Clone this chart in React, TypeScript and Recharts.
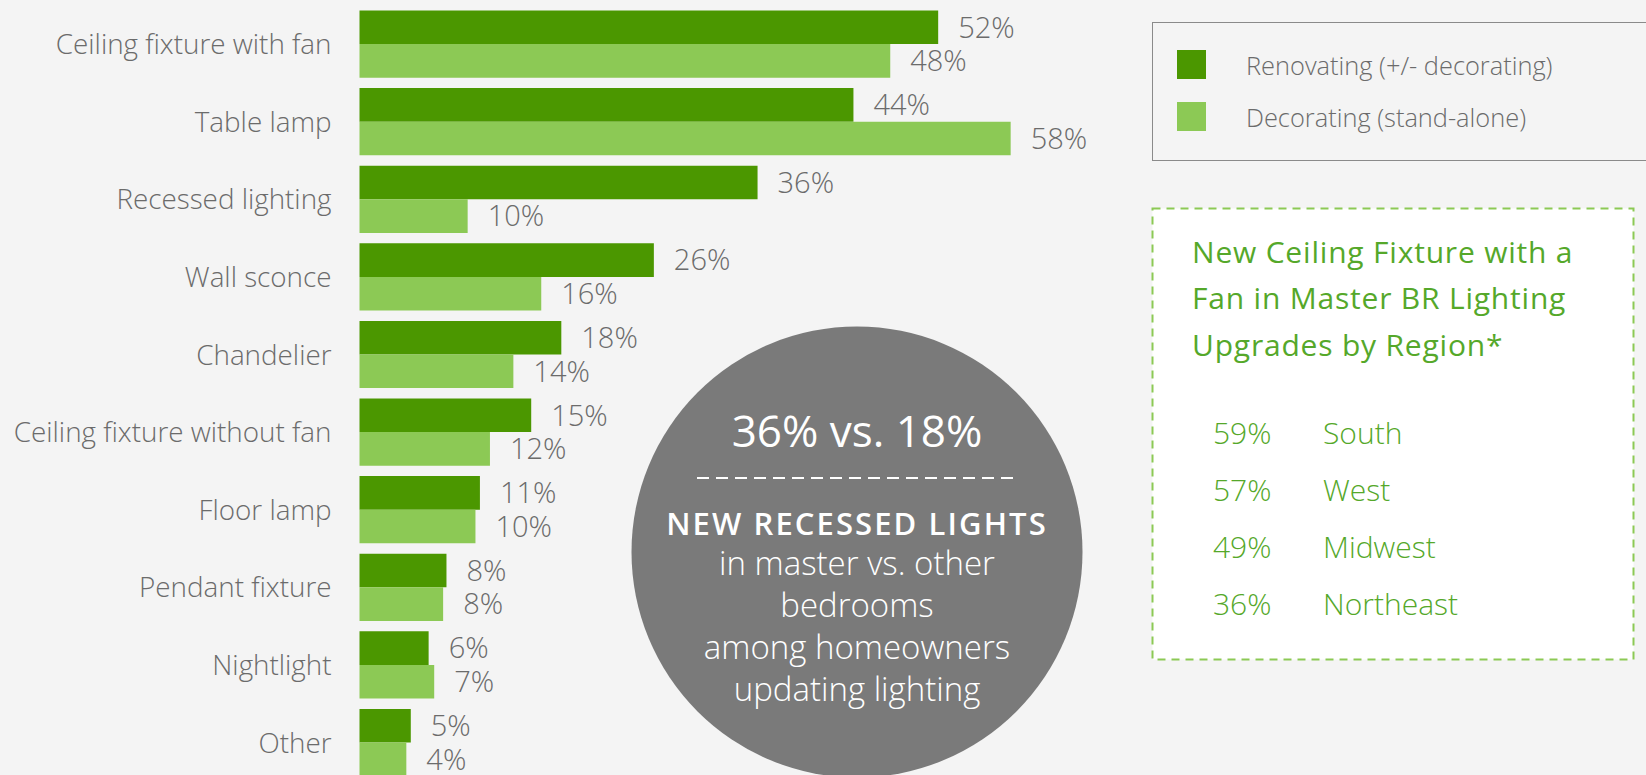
import React from "react";
import { BarChart, Bar, XAxis, YAxis, LabelList, Legend } from "recharts";

const categories = [
  "Ceiling fixture with fan",
  "Table lamp",
  "Recessed lighting",
  "Wall sconce",
  "Chandelier",
  "Ceiling fixture without fan",
  "Floor lamp",
  "Pendant fixture",
  "Nightlight",
  "Other",
];
const renovating = [51.9, 44.3, 35.7, 26.4, 18.1, 15.4, 10.8, 7.8, 6.2, 4.6];
const decorating = [47.6, 58.4, 9.7, 16.3, 13.8, 11.7, 10.4, 7.5, 6.7, 4.2];
const seriesNames = ["Renovating (+/- decorating)", "Decorating (stand-alone)"];

const calloutTitle = ["New Ceiling Fixture with a", "Fan in Master BR Lighting", "Upgrades by Region*"];
const regionShares = [59, 57, 49, 36];
const regionNames = ["South", "West", "Midwest", "Northeast"];

const circleHeadline = "36% vs. 18%";
const circleBold = "NEW RECESSED LIGHTS";
const circleLines = ["in master vs. other", "bedrooms", "among homeowners", "updating lighting"];

const data = categories.map((name, i) => ({
  name,
  renovating: renovating[i],
  decorating: decorating[i],
}));

const DARK = "#4b9700";
const LIGHT = "#8cc955";
const GREY_TEXT = "#6b6b6b";
const GREEN_TEXT = "#55a82a";
const FONT = "'Open Sans', Lato, sans-serif";

const pct = (v: any) => `${Math.round(Number(v))}%`;

const LegendBox = ({ payload }: any) => (
  <div
    style={{
      position: "relative",
      width: 520,
      height: 139,
      boxSizing: "border-box",
      border: "1.5px solid #8a8a8a",
      fontFamily: FONT,
    }}
  >
    {(payload || []).map((p: any, i: number) => (
      <div
        key={p.value}
        style={{ position: "absolute", left: 24, top: 27 + i * 52, display: "flex", alignItems: "center", height: 29 }}
      >
        <span style={{ display: "inline-block", width: 29, height: 29, background: p.color }} />
        <span style={{ marginLeft: 40, fontSize: 25.4, fontWeight: 300, color: GREY_TEXT, whiteSpace: "nowrap" }}>
          {p.value}
        </span>
      </div>
    ))}
  </div>
);

export default function App() {
  return (
    <div style={{ position: "relative", width: 1646, height: 775, overflow: "hidden", background: "#f4f4f4", fontFamily: FONT }}>
      <style>{"body{margin:0;background:#f4f4f4}"}</style>
      <BarChart
        width={1646}
        height={781.5}
        data={data}
        layout="vertical"
        margin={{ top: 5.5, right: 171.5, bottom: 0, left: 0 }}
        barGap={0}
      >
        <XAxis type="number" domain={[0, 100]} hide />
        <YAxis
          type="category"
          dataKey="name"
          width={359.5}
          interval={0}
          tickLine={false}
          axisLine={false}
          tickSize={0}
          tickMargin={28}
          tick={{ fill: GREY_TEXT, fontSize: 27.8, fontWeight: 300, fontFamily: FONT }}
        />
        <Legend
          layout="horizontal"
          verticalAlign="middle"
          align="center"
          itemSorter={(item: any) => seriesNames.indexOf(item.value)}
          content={<LegendBox />}
          wrapperStyle={{ position: "absolute", left: 1152, top: 22, width: 520, height: 139 }}
        />
        <Bar dataKey="renovating" name={seriesNames[0]} fill={DARK} barSize={33.6} isAnimationActive={false}>
          <LabelList
            dataKey="renovating"
            position="right"
            offset={20}
            formatter={pct}
            fill={GREY_TEXT}
            fontSize={29}
            fontWeight={300}
            fontFamily={FONT}
          />
        </Bar>
        <Bar dataKey="decorating" name={seriesNames[1]} fill={LIGHT} barSize={33.6} isAnimationActive={false}>
          <LabelList
            dataKey="decorating"
            position="right"
            offset={20}
            formatter={pct}
            fill={GREY_TEXT}
            fontSize={29}
            fontWeight={300}
            fontFamily={FONT}
          />
        </Bar>
      </BarChart>

      {/* callouts drawn on top of the chart */}
      <svg
        width={1646}
        height={775}
        style={{ position: "absolute", left: 0, top: 0, pointerEvents: "none", fontFamily: FONT }}
      >
        <circle cx={857} cy={552} r={225.5} fill="#7a7a7a" />
        <text x={857} y={447} textAnchor="middle" fill="#fff" fontSize={44} fontWeight={400}>
          {circleHeadline}
        </text>
        <line x1={697} y1={478} x2={1015} y2={478} stroke="#fff" strokeWidth={2} strokeDasharray="12 7" />
        <text x={857} y={535} textAnchor="middle" fill="#fff" fontSize={31} fontWeight={600} letterSpacing={2.1}>
          {circleBold}
        </text>
        {circleLines.map((t, i) => (
          <text key={t} x={857} y={575 + i * 42} textAnchor="middle" fill="#fff" fontSize={33} fontWeight={300}>
            {t}
          </text>
        ))}

        <rect x={1152.5} y={208.5} width={481} height={451} fill="#fff" stroke={LIGHT} strokeWidth={2} strokeDasharray="8 6" />
        {calloutTitle.map((t, i) => (
          <text key={t} x={1192} y={263 + i * 46.3} fill={GREEN_TEXT} fontSize={30} fontWeight={500} letterSpacing={0.8}>
            {t}
          </text>
        ))}
        {regionShares.map((v, i) => (
          <g key={regionNames[i]}>
            <text x={1213} y={444 + i * 57} fill={GREEN_TEXT} fontSize={30} fontWeight={300}>
              {`${v}%`}
            </text>
            <text x={1323} y={444 + i * 57} fill={GREEN_TEXT} fontSize={30} fontWeight={300}>
              {regionNames[i]}
            </text>
          </g>
        ))}
      </svg>
    </div>
  );
}
